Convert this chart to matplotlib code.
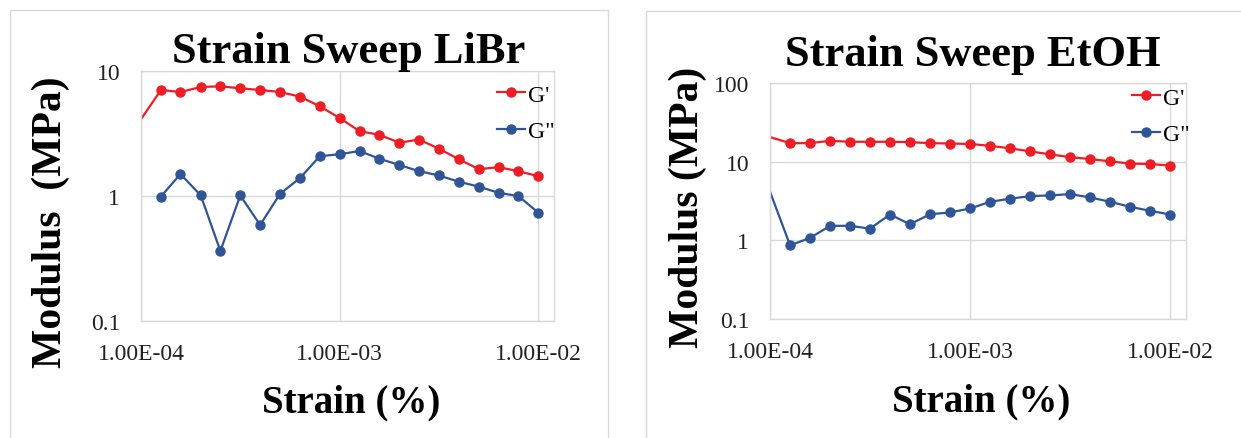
import numpy as np
import matplotlib
matplotlib.use("Agg")
import matplotlib.pyplot as plt
from matplotlib.patches import Rectangle

plt.rcParams["font.family"] = ["Liberation Serif", "DejaVu Serif"]

# strain sweep, 0.1 decade steps (first point sits just below the axis minimum)
strain = [7.94e-05, 1.26e-04, 1.58e-04, 2.00e-04, 2.51e-04, 3.16e-04, 3.98e-04,
          5.01e-04, 6.31e-04, 7.94e-04, 1.00e-03, 1.26e-03, 1.58e-03, 2.00e-03,
          2.51e-03, 3.16e-03, 3.98e-03, 5.01e-03, 6.31e-03, 7.94e-03, 1.00e-02]

libr_g1 = [2.4, 7.05, 6.79, 7.45, 7.54, 7.27, 7.05, 6.79, 6.24, 5.22, 4.21,
           3.30, 3.09, 2.67, 2.83, 2.39, 1.97, 1.64, 1.70, 1.58, 1.44]
libr_g2 = [np.nan, 0.99, 1.50, 1.01, 0.363, 1.01, 0.586, 1.04, 1.39, 2.08, 2.16,
           2.29, 1.99, 1.77, 1.58, 1.46, 1.30, 1.19, 1.06, 1.00, 0.736]

etoh_g1 = [24.5, 17.2, 17.2, 18.4, 17.9, 17.9, 17.9, 17.7, 17.2, 17.0, 16.8,
           15.9, 14.8, 13.5, 12.4, 11.4, 10.8, 10.1, 9.45, 9.35, 8.9]
etoh_g2 = [20.0, 0.863, 1.07, 1.53, 1.53, 1.41, 2.13, 1.60, 2.15, 2.26, 2.54,
           3.09, 3.38, 3.65, 3.72, 3.87, 3.51, 3.09, 2.67, 2.37, 2.13]

x_ticks = [1e-4, 1e-3, 1e-2]
x_ticklabels = ["1.00E-04", "1.00E-03", "1.00E-02"]

RED = "#EE1C24"
BLUE = "#2F5597"
GRID = "#D9D9D9"

W, H = 1241, 439
fig = plt.figure(figsize=(W / 100, H / 100), dpi=100)


def px_box(x0, y0, x1, y1):
    # pixel box (top-left origin) -> figure fraction rect
    return [x0 / W, 1 - y1 / H, (x1 - x0) / W, (y1 - y0) / H]


def strain_panel(rect, g1, g2, ylim, yticks, yticklabels, legend_xy):
    ax = fig.add_axes(rect)
    ax.set_xscale("log")
    ax.set_yscale("log")
    ax.plot(strain, g1, color=RED, lw=1.6, marker="o", ms=6.5, label="G'")
    ax.plot(strain, g2, color=BLUE, lw=1.6, marker="o", ms=6.5, label='G"')
    ax.set_xlim(1e-4, 0.012)
    ax.set_ylim(*ylim)
    ax.set_xticks(x_ticks)
    ax.set_xticklabels(x_ticklabels)
    ax.set_yticks(yticks)
    ax.set_yticklabels(yticklabels)
    ax.minorticks_off()
    ax.tick_params(length=0, labelsize=17, colors="#222222")
    ax.tick_params(axis="y", pad=15)
    ax.tick_params(axis="x", pad=16)
    ax.grid(True, color=GRID, lw=1)
    ax.set_axisbelow(True)
    for sp in ax.spines.values():
        sp.set_color(GRID)
        sp.set_linewidth(1)
    lx, ly = legend_xy
    ax.legend(loc="upper left", bbox_to_anchor=(lx / W, 1 - ly / H),
              bbox_transform=fig.transFigure, frameon=False, fontsize=17,
              handlelength=1.2, handletextpad=0.1, labelspacing=0.65,
              borderpad=0, borderaxespad=0, numpoints=1)
    return ax


strain_panel(px_box(141, 72, 554, 322), libr_g1, libr_g2,
             (0.1, 10), [0.1, 1, 10], ["0.1", "1", "10"], (497, 85))
strain_panel(px_box(770, 84, 1186, 320), etoh_g1, etoh_g2,
             (0.1, 100), [0.1, 1, 10, 100], ["0.1", "1", "10", "100"], (1132, 88))

# chart area frames
for x0, y0, x1, y1 in [(10, 11, 608, 460), (646, 12, 1260, 460)]:
    fig.add_artist(Rectangle((x0 / W, 1 - y1 / H), (x1 - x0) / W, (y1 - y0) / H,
                             transform=fig.transFigure, fill=False,
                             edgecolor=GRID, lw=1))

bold = dict(fontweight="bold", color="black")
fig.text(349 / W, 1 - 63 / H, "Strain Sweep LiBr", ha="center", va="baseline",
         fontsize=32, **bold)
fig.text(973 / W, 1 - 66 / H, "Strain Sweep EtOH", ha="center", va="baseline",
         fontsize=32, **bold)
fig.text(51 / W, 1 - 222 / H, "Modulus  (MPa)", rotation=90, ha="center",
         va="center", fontsize=30, **bold)
fig.text(688 / W, 1 - 207 / H, "Modulus (MPa)", rotation=90, ha="center",
         va="center", fontsize=30, **bold)
fig.text(351 / W, 1 - 412 / H, "Strain (%)", ha="center", va="baseline",
         fontsize=28, **bold)
fig.text(981 / W, 1 - 411 / H, "Strain (%)", ha="center", va="baseline",
         fontsize=28, **bold)

fig.savefig("out.png", dpi=100)
